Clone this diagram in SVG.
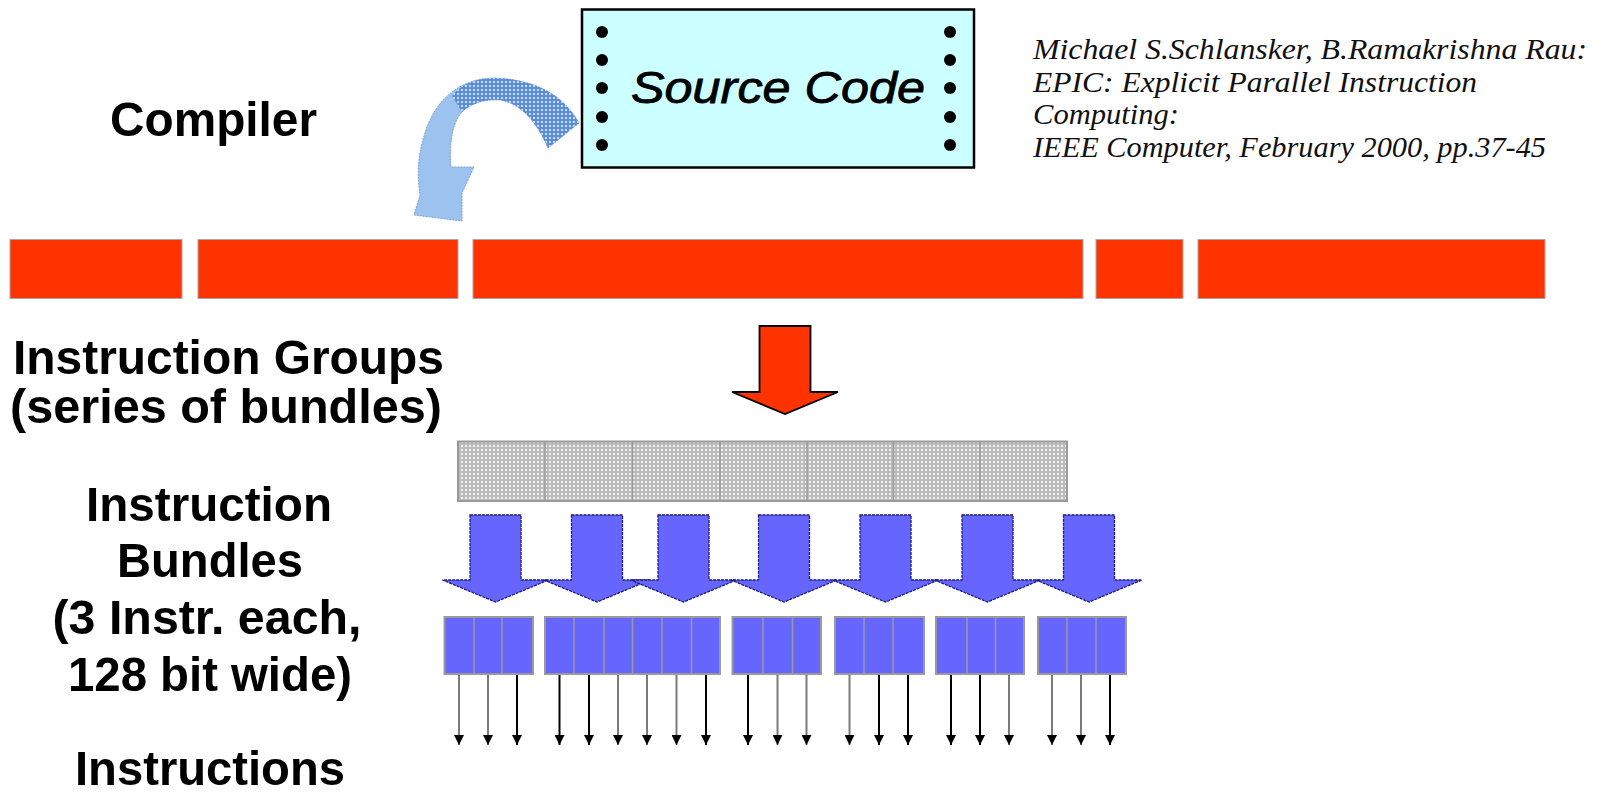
<svg xmlns="http://www.w3.org/2000/svg" width="1606" height="792" viewBox="0 0 1606 792">
<style>
.lbl{font-family:"Liberation Sans",Arial,sans-serif;font-weight:bold;font-size:49px;fill:#000}
.cite{font-family:"Liberation Serif","Times New Roman",serif;font-style:italic;font-size:29px;fill:#111}
.red{fill:#ff3300;stroke:#a8a8a8;stroke-width:1}
.bund{fill:#6666ff;stroke:#9a9a9a;stroke-width:2}
.div{stroke:#9a9a9a;stroke-width:1.5}
.barr{fill:#6666ff;stroke:#1c1c7a;stroke-width:1.3;stroke-dasharray:3 1}
.ik{stroke:#000;stroke-width:2}
.ig{stroke:#7a7a7a;stroke-width:2}
</style>
<defs>
<pattern id="stip" width="4" height="4" patternUnits="userSpaceOnUse"><rect width="4" height="4" fill="#bcbcbc"/><rect x="1" y="1" width="2" height="2" fill="#f0f0f0"/></pattern>
<pattern id="bstip" width="4" height="4" patternUnits="userSpaceOnUse"><rect width="4" height="4" fill="#5d8fd8"/><rect x="1" y="1" width="2" height="2" fill="#c6dbf6"/></pattern>
<marker id="ah" markerUnits="userSpaceOnUse" markerWidth="10" markerHeight="10" viewBox="0 0 10 10" refX="10" refY="5" orient="auto"><path d="M0,0 L10,5 L0,10 z" fill="#000"/></marker>
</defs>
<rect width="1606" height="792" fill="#fff"/>

<g id="source-code">
<rect x="582" y="9.5" width="392" height="158" fill="#ccffff" stroke="#000" stroke-width="2.5"/>
<g fill="#000">
<circle cx="602" cy="32" r="6"/><circle cx="602" cy="60" r="6"/><circle cx="602" cy="88" r="6"/><circle cx="602" cy="117" r="6"/><circle cx="602" cy="145" r="6"/>
<circle cx="950" cy="32" r="6"/><circle cx="950" cy="60" r="6"/><circle cx="950" cy="88" r="6"/><circle cx="950" cy="117" r="6"/><circle cx="950" cy="145" r="6"/>
</g>
<text x="631" y="103" font-family="'Liberation Sans',Arial,sans-serif" font-style="italic" font-size="45" stroke="#000" stroke-width="0.8" textLength="294" lengthAdjust="spacingAndGlyphs">Source Code</text>
</g>

<g id="citation" class="cite">
<text x="1033" y="59" textLength="554" lengthAdjust="spacingAndGlyphs">Michael S.Schlansker, B.Ramakrishna Rau:</text>
<text x="1033" y="91.5" textLength="444" lengthAdjust="spacingAndGlyphs">EPIC: Explicit Parallel Instruction</text>
<text x="1033" y="124" textLength="146" lengthAdjust="spacingAndGlyphs">Computing:</text>
<text x="1033" y="156.5" textLength="513" lengthAdjust="spacingAndGlyphs">IEEE Computer, February 2000, pp.37-45</text>
</g>

<g id="compiler-label"><text class="lbl" x="110" y="136" font-size="50" textLength="207" lengthAdjust="spacingAndGlyphs">Compiler</text></g>

<g id="instruction-groups">
<rect class="red" x="10" y="239.5" width="172" height="59"/>
<rect class="red" x="198" y="239.5" width="260" height="59"/>
<rect class="red" x="473" y="239.5" width="610" height="59"/>
<rect class="red" x="1096" y="239.5" width="87" height="59"/>
<rect class="red" x="1198" y="239.5" width="347" height="59"/>
</g>

<g id="groups-label" class="lbl">
<text x="13" y="374" textLength="431" lengthAdjust="spacingAndGlyphs">Instruction Groups</text>
<text x="10" y="423" textLength="432" lengthAdjust="spacingAndGlyphs">(series of bundles)</text>
</g>

<g id="bundle-series">
<rect x="458" y="441.5" width="609" height="59.5" fill="url(#stip)" stroke="#9a9a9a" stroke-width="2"/>
<path class="div" d="M545,441.5V501M632.5,441.5V501M720,441.5V501M807,441.5V501M893.5,441.5V501M980,441.5V501"/>
</g>

<g id="bundles-label" class="lbl" text-anchor="middle">
<text x="209" y="521" textLength="246" lengthAdjust="spacingAndGlyphs">Instruction</text>
<text x="210" y="577" textLength="186" lengthAdjust="spacingAndGlyphs">Bundles</text>
<text x="207" y="634" textLength="309" lengthAdjust="spacingAndGlyphs">(3 Instr. each,</text>
<text x="210" y="691" textLength="284" lengthAdjust="spacingAndGlyphs">128 bit wide)</text>
</g>

<g id="instructions-label"><text class="lbl" x="210" y="785" text-anchor="middle" textLength="270" lengthAdjust="spacingAndGlyphs">Instructions</text></g>

<g id="bundle-1"><rect class="bund" x="444.5" y="617" width="88.5" height="57"/><path class="div" d="M474,617V674M502,617V674"/></g>
<g id="bundle-2"><rect class="bund" x="545" y="617" width="175" height="57"/><path class="div" d="M574,617V674M604,617V674M632.5,617V674M662,617V674M691.5,617V674"/></g>
<g id="bundle-3"><rect class="bund" x="732.5" y="617" width="88.5" height="57"/><path class="div" d="M763,617V674M792.5,617V674"/></g>
<g id="bundle-4"><rect class="bund" x="835" y="617" width="89" height="57"/><path class="div" d="M864,617V674M893,617V674"/></g>
<g id="bundle-5"><rect class="bund" x="936" y="617" width="88" height="57"/><path class="div" d="M967,617V674M995.5,617V674"/></g>
<g id="bundle-6"><rect class="bund" x="1038" y="617" width="88" height="57"/><path class="div" d="M1067,617V674M1096,617V674"/></g>

<g id="connectors">
<path d="M579,123 C565,98 540,80 495,78 C460,78 435,100 425,133 C416,160 418,180 420,195 L414,215 L462,221 L462,193 L474,167 L451,167 C449,145 452,120 464,110 C475,101 490,99 500,100 C520,103 537,122 548,148 Z" fill="#9cc3f0" stroke="#7fa3d0" stroke-width="1" stroke-dasharray="2 1"/>
<path d="M579,123 C565,98 540,80 495,78 C475,78 460,85 452,96 L462,112 C475,101 490,99 500,100 C520,103 537,122 548,148 Z" fill="url(#bstip)"/>

<path d="M759.5,326 H810.5 V392 H838 L785,414 L732,392 H759.5 Z" fill="#ff3300" stroke="#000" stroke-width="1.8"/>

<path class="barr" d="M470,515H521V580H548.5L495.5,602L442.5,580H470Z"/>
<path class="barr" d="M571.5,515H622.5V580H650L597,602L544,580H571.5Z"/>
<path class="barr" d="M658,515H709V580H736.5L683.5,602L630.5,580H658Z"/>
<path class="barr" d="M758.5,515H809.5V580H837L784,602L731,580H758.5Z"/>
<path class="barr" d="M860,515H911V580H938.5L885.5,602L832.5,580H860Z"/>
<path class="barr" d="M962,515H1013V580H1040.5L987.5,602L934.5,580H962Z"/>
<path class="barr" d="M1063.5,515H1114.5V580H1142L1089,602L1036,580H1063.5Z"/>

<g marker-end="url(#ah)">
<line class="ig" x1="459" y1="675" x2="459" y2="745"/>
<line class="ig" x1="488" y1="675" x2="488" y2="745"/>
<line class="ik" x1="517" y1="675" x2="517" y2="745"/>
<line class="ik" x1="559.5" y1="675" x2="559.5" y2="745"/>
<line class="ik" x1="589" y1="675" x2="589" y2="745"/>
<line class="ig" x1="618" y1="675" x2="618" y2="745"/>
<line class="ig" x1="647" y1="675" x2="647" y2="745"/>
<line class="ig" x1="676.5" y1="675" x2="676.5" y2="745"/>
<line class="ik" x1="706" y1="675" x2="706" y2="745"/>
<line class="ik" x1="748" y1="675" x2="748" y2="745"/>
<line class="ig" x1="777.5" y1="675" x2="777.5" y2="745"/>
<line class="ig" x1="806.5" y1="675" x2="806.5" y2="745"/>
<line class="ig" x1="849.5" y1="675" x2="849.5" y2="745"/>
<line class="ik" x1="879" y1="675" x2="879" y2="745"/>
<line class="ik" x1="908" y1="675" x2="908" y2="745"/>
<line class="ik" x1="951" y1="675" x2="951" y2="745"/>
<line class="ik" x1="980" y1="675" x2="980" y2="745"/>
<line class="ig" x1="1009" y1="675" x2="1009" y2="745"/>
<line class="ig" x1="1052" y1="675" x2="1052" y2="745"/>
<line class="ig" x1="1081" y1="675" x2="1081" y2="745"/>
<line class="ik" x1="1110" y1="675" x2="1110" y2="745"/>
</g>
</g>
</svg>
